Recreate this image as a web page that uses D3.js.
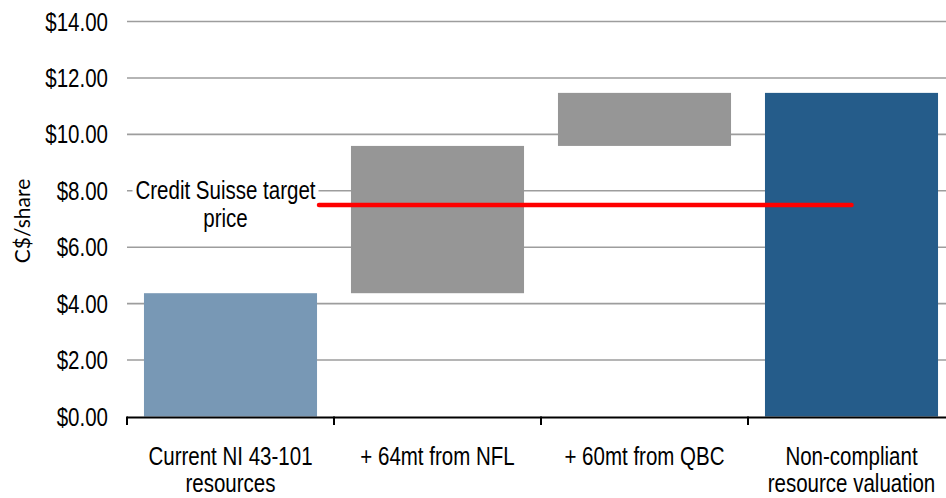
<!DOCTYPE html>
<html>
<head>
<meta charset="utf-8">
<script src="https://cdn.jsdelivr.net/npm/d3@7"></script>
<style>
  html, body { margin: 0; padding: 0; background: #fff; }
  svg { display: block; }
  text { font-family: "Liberation Sans Narrow", "Arial Narrow", "Liberation Sans", Arial, sans-serif; fill: #000; }
</style>
</head>
<body>
<svg id="chart" width="946" height="498"></svg>
<script>
// ---- data ----
const categories = [
  ["Current NI 43-101", "resources"],
  ["+ 64mt from NFL"],
  ["+ 60mt from QBC"],
  ["Non-compliant", "resource valuation"]
];
const barStart = [0, 4.37, 9.59, 0];
const barEnd   = [4.37, 9.59, 11.47, 11.47];
const barColors = ["#7898B5", "#969696", "#969696", "#255C8A"];
const yTicks = [0, 2, 4, 6, 8, 10, 12, 14];
const yTickLabels = ["$0.00", "$2.00", "$4.00", "$6.00", "$8.00", "$10.00", "$12.00", "$14.00"];
const targetPrice = 7.5;
const targetLabel = ["Credit Suisse target", "price"];
const yTitle = "C$/share";

// ---- layout ----
const svg = d3.select("#chart");
const W = 946;
const plotLeft = 127, plotRight = 955, plotTop = 21.5, plotBottom = 416.5;
const catKeys = categories.map((c, i) => i);
const NARROW = 0.82;

function condense(sel) {
  sel.each(function() {
    const len = this.getComputedTextLength();
    d3.select(this).attr("textLength", len * NARROW).attr("lengthAdjust", "spacingAndGlyphs");
  });
}

const x = d3.scaleBand().domain(catKeys).range([plotLeft, plotRight])
  .paddingInner(0.164).paddingOuter(0.082);
const y = d3.scaleLinear().domain([0, 14]).range([plotBottom, plotTop]);

// gridlines
svg.append("g").selectAll("line").data(yTicks.filter(t => t > 0)).join("line")
  .attr("x1", plotLeft).attr("x2", W)
  .attr("y1", d => y(d)).attr("y2", d => y(d))
  .attr("stroke", "#9d9d9d").attr("stroke-width", 1.6);

// y tick labels
svg.append("g").selectAll("text").data(yTicks).join("text")
  .attr("x", 108).attr("y", d => y(d)).attr("dy", "0.36em")
  .attr("text-anchor", "end").style("font-size", "25px")
  .text((d, i) => yTickLabels[i])
  .call(condense);

// y title
svg.append("text")
  .attr("transform", `translate(30,${(plotTop + plotBottom) / 2 + 2}) rotate(-90)`)
  .attr("text-anchor", "middle")
  .style("font-family", "Lato, 'Noto Sans', sans-serif").style("font-size", "21px")
  .text(yTitle);

// bars
svg.append("g").selectAll("rect").data(catKeys).join("rect")
  .attr("x", d => x(d)).attr("width", x.bandwidth())
  .attr("y", d => y(barEnd[d])).attr("height", d => y(barStart[d]) - y(barEnd[d]))
  .attr("fill", d => barColors[d]);

// target label with white background
const labelCx = x(0) + x.bandwidth() / 2 - 5;
svg.append("rect")
  .attr("x", labelCx - 93).attr("y", y(targetPrice) - 24)
  .attr("width", 186).attr("height", 52).attr("fill", "#fff");
svg.append("g").selectAll("text").data(targetLabel).join("text")
  .attr("text-anchor", "middle").style("font-size", "25px")
  .attr("x", labelCx).attr("y", (d, i) => 198.5 + i * 28)
  .text(d => d)
  .call(condense);

// target line
svg.append("line")
  .attr("x1", x(0) + x.bandwidth() + 2).attr("x2", x(3) + x.bandwidth() / 2)
  .attr("y1", y(targetPrice)).attr("y2", y(targetPrice))
  .attr("stroke", "#ff0000").attr("stroke-width", 4.5).attr("stroke-linecap", "round");

// x axis
const xAxisG = svg.append("g");
xAxisG.append("line")
  .attr("x1", plotLeft).attr("x2", W).attr("y1", plotBottom + 1).attr("y2", plotBottom + 1)
  .attr("stroke", "#000").attr("stroke-width", 2.2);
xAxisG.selectAll("line.tick").data(catKeys).join("line").attr("class", "tick")
  .attr("x1", d => x(d) - x.step() * 0.082).attr("x2", d => x(d) - x.step() * 0.082)
  .attr("y1", plotBottom).attr("y2", plotBottom + 8.5)
  .attr("stroke", "#000").attr("stroke-width", 2);

const catLines = [];
categories.forEach((lines, d) => lines.forEach((t, i) => catLines.push({ d, i, t })));
xAxisG.selectAll("text.cat").data(catLines).join("text").attr("class", "cat")
  .attr("text-anchor", "middle").style("font-size", "25px")
  .attr("x", o => x(o.d) + x.bandwidth() / 2)
  .attr("y", o => 465 + o.i * 26.5)
  .text(o => o.t)
  .call(condense);
</script>
</body>
</html>
